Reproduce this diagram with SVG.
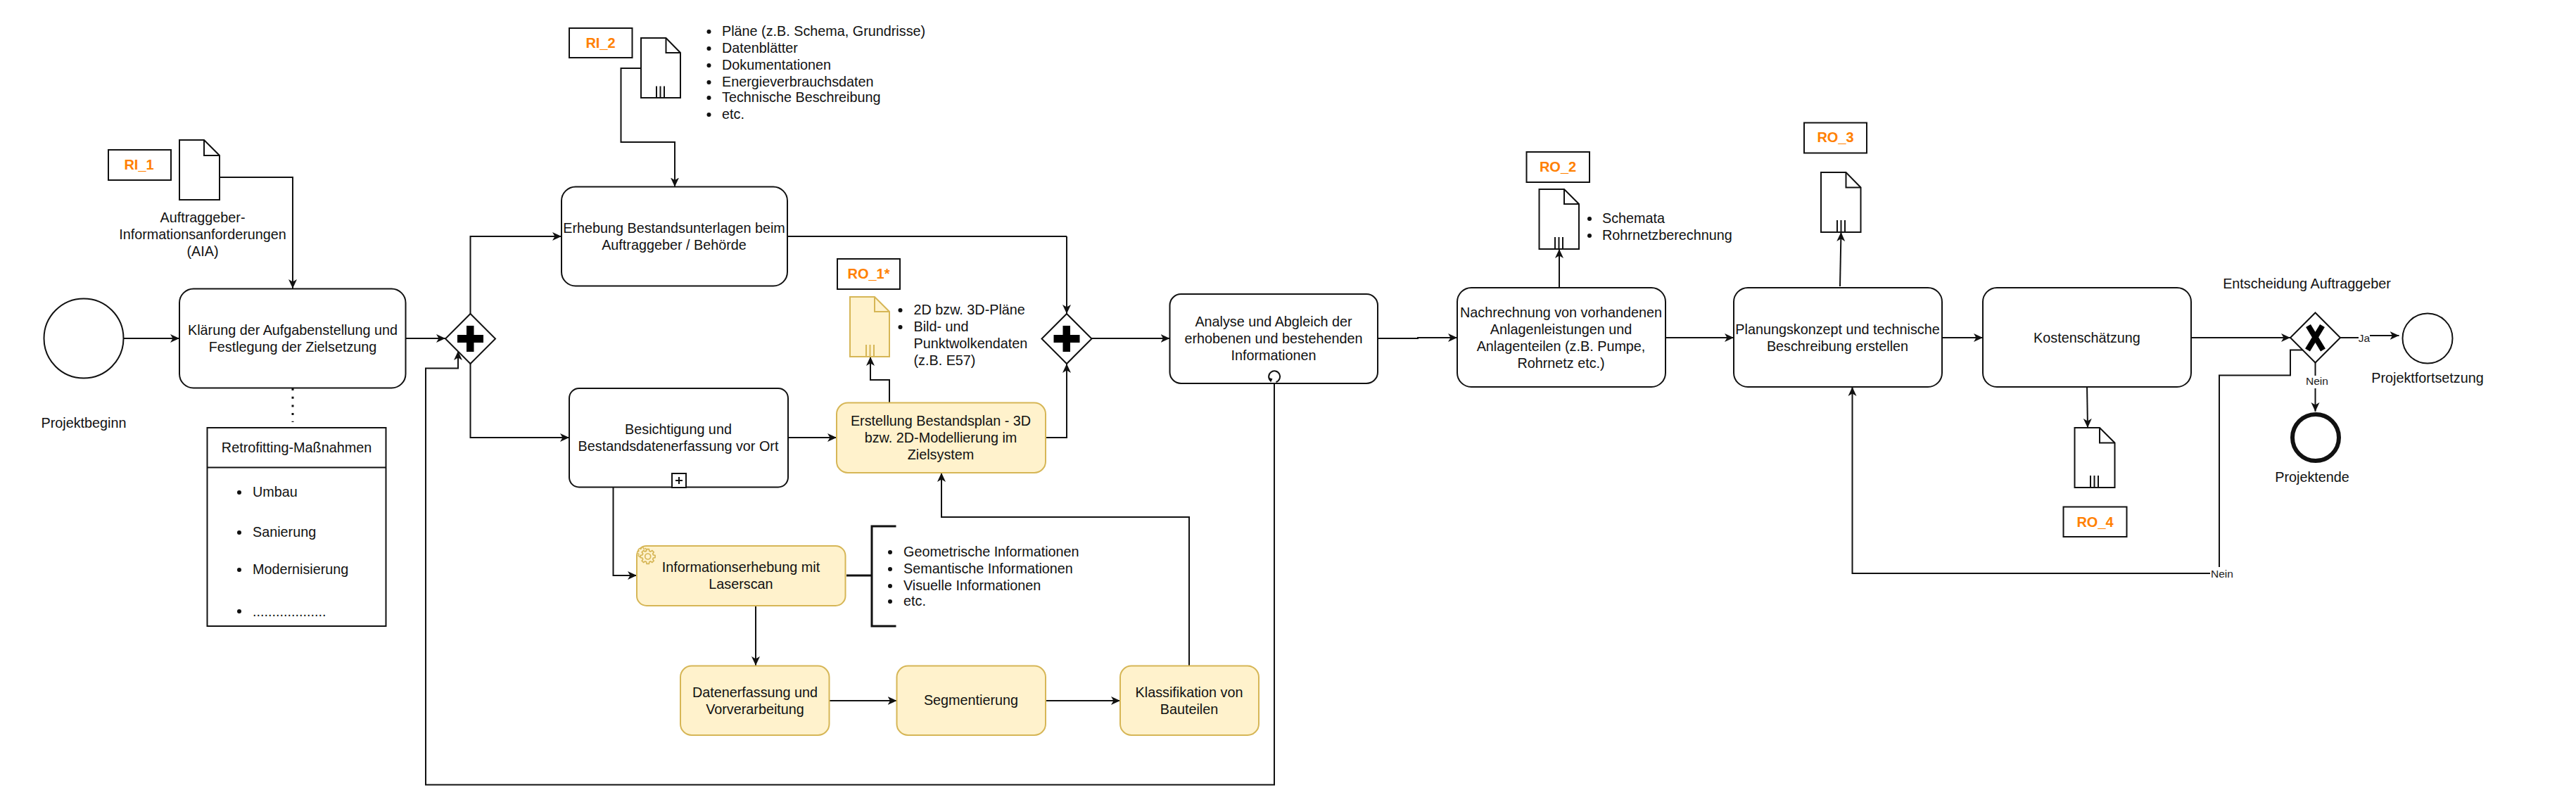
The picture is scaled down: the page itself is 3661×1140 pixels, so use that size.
<svg xmlns="http://www.w3.org/2000/svg" width="3661" height="1140" viewBox="0 0 3661 1140">
<style>
text{font-family:"Liberation Sans",Arial,sans-serif;font-size:19.8px;fill:#111}
.c{text-anchor:middle}
.ref{font-size:20px;font-weight:bold;fill:#ff8000;text-anchor:middle}
.small{font-size:15.500px;text-anchor:middle;fill:#222}
.s{fill:#fff;stroke:#111;stroke-width:2}
.y{fill:#fff2cc;stroke:#d6b656;stroke-width:2}
.n{fill:none;stroke:#111;stroke-width:2}
.ny{fill:none;stroke:#d6b656;stroke-width:2}
.l{fill:none;stroke:#111;stroke-width:2;marker-end:url(#a)}
.p{fill:none;stroke:#111;stroke-width:2}
.b{fill:#111}
.g{fill:#fff2cc;stroke:#d6b656;stroke-width:1.700}
</style>
<defs>
<marker id="a" markerUnits="userSpaceOnUse" markerWidth="15" markerHeight="14" refX="13" refY="7" orient="auto">
<path d="M0,1 L13,7 L0,13 L3.500,7 Z" fill="#111"/>
</marker>
<path id="gear" d="M7,3.880L8.490,6.170L6.170,8.490L3.880,7L2.200,7.690L1.640,10.370L-1.640,10.370L-2.200,7.690L-3.880,7L-6.170,8.490L-8.490,6.170L-7,3.880L-7.690,2.200L-10.370,1.640L-10.370,-1.640L-7.690,-2.200L-7,-3.880L-8.490,-6.170L-6.170,-8.490L-3.880,-7L-2.200,-7.690L-1.640,-10.370L1.640,-10.370L2.200,-7.690L3.880,-7L6.170,-8.490L8.490,-6.170L7,-3.880L7.690,-2.200L10.370,-1.640L10.370,1.640L7.690,2.200Z"/>
</defs>
<rect width="3661" height="1140" fill="#fff"/>
<g id="connectors">
<path class="l" d="M175,481H255"/>
<path class="l" d="M312,252H416V410"/>
<path class="l" d="M576,481H633"/>
<path class="l" d="M668.500,446V336H798"/>
<path class="l" d="M668.500,517V622H809"/>
<path class="l" d="M1811,545V1115.500H605V523.500H651V499"/>
<path d="M416,552V600" fill="none" stroke="#111" stroke-width="3" stroke-dasharray="3 8.700"/>
<path class="l" d="M911,97H882.500V202H959V265.500"/>
<path class="p" d="M1119,336H1516"/>
<path class="l" d="M1516,336V446"/>
<path class="l" d="M1120,622H1189"/>
<path class="l" d="M1264,572V540H1237V507"/>
<path class="l" d="M1486,622H1516V517"/>
<path class="l" d="M871.500,692.500V818H905"/>
<path d="M1203,818H1239M1273.500,748H1239V890H1273.500" fill="none" stroke="#111" stroke-width="3"/>
<path class="l" d="M1074,861V946"/>
<path class="l" d="M1178.500,996H1274.500"/>
<path class="l" d="M1486,996H1592"/>
<path class="l" d="M1690,946V735H1338V672"/>
<path class="l" d="M1551,481H1662.500"/>
<path class="l" d="M1958,481H2015V480H2071"/>
<path class="l" d="M2216,409V354"/>
<path class="l" d="M2367,480H2464"/>
<path class="l" d="M2615,407L2616.500,330"/>
<path class="l" d="M2760,480H2818"/>
<path class="l" d="M3114,480H3255"/>
<path class="l" d="M2966,547L2967,608"/>
<path class="p" d="M3326,480H3352"/>
<path class="l" d="M3368,477H3409.500"/>
<text class="small" x="3360" y="486">Ja</text>
<path class="l" d="M3290.500,515V585"/>
<path class="l" d="M3272,497.500H3255V533.500H3154V815H2632.500V550"/>
<rect x="3277" y="534" width="32" height="18" fill="#fff"/>
<text class="small" x="3293" y="547">Nein</text>
<rect x="3141" y="806" width="34" height="18" fill="#fff"/>
<text class="small" x="3158" y="821">Nein</text>
</g>
<g id="start">
<circle class="s" cx="119" cy="481" r="56.500"/>
<text class="c" x="119" y="608">Projektbeginn</text>
</g>
<g id="ri1">
<rect class="s" x="154" y="213" width="89" height="43"/>
<text class="ref" x="197.500" y="241">RI_1</text>
</g>
<g id="doc-aia">
<path class="s" d="M255,199H290L312,221V284H255Z"/>
<path class="n" d="M290,199V221H312"/>
<text class="c" x="288" y="316">Auftraggeber-</text>
<text class="c" x="288" y="340">Informationsanforderungen</text>
<text class="c" x="288" y="364">(AIA)</text>
</g>
<g id="task-klaerung">
<rect class="s" x="255" y="410.500" width="321.500" height="141" rx="20"/>
<text class="c" x="416" y="476">Klärung der Aufgabenstellung und</text>
<text class="c" x="416" y="500">Festlegung der Zielsetzung</text>
</g>
<g id="retrofitting">
<rect class="s" x="294.500" y="608" width="254" height="282"/>
<path class="n" d="M294.500,664.500H548.500"/>
<text class="c" x="421.500" y="643">Retrofitting-Maßnahmen</text>
<circle class="b" cx="340" cy="700" r="3"/><text x="359" y="706">Umbau</text>
<circle class="b" cx="340" cy="757" r="3"/><text x="359" y="763">Sanierung</text>
<circle class="b" cx="340" cy="810" r="3"/><text x="359" y="816">Modernisierung</text>
<circle class="b" cx="340" cy="869" r="3"/><text x="359" y="876">...................</text>
</g>
<g id="gateway-1">
<path class="s" d="M668.500,446L704,481.500L668.500,517L633,481.500Z"/>
<path d="M663,463H673.500V476H687V487H673.500V500H663V487H650V476H663Z" fill="#000"/>
</g>
<g id="ri2">
<rect class="s" x="809" y="40" width="89.500" height="42"/>
<text class="ref" x="853.500" y="68">RI_2</text>
</g>
<g id="doc-ri2">
<path class="s" d="M911,54H946.500L967,75V139H911Z"/>
<path class="n" d="M946.500,54V75H967M933,122.500V139M938.500,122.500V139M944,122.500V139"/>
<circle class="b" cx="1007.500" cy="45" r="3"/><text x="1026" y="51">Pläne (z.B. Schema, Grundrisse)</text>
<circle class="b" cx="1007.500" cy="69" r="3"/><text x="1026" y="75">Datenblätter</text>
<circle class="b" cx="1007.500" cy="93" r="3"/><text x="1026" y="99">Dokumentationen</text>
<circle class="b" cx="1007.500" cy="117" r="3"/><text x="1026" y="123">Energieverbrauchsdaten</text>
<circle class="b" cx="1007.500" cy="139" r="3"/><text x="1026" y="145">Technische Beschreibung</text>
<circle class="b" cx="1007.500" cy="163" r="3"/><text x="1026" y="169">etc.</text>
</g>
<g id="task-erhebung">
<rect class="s" x="798" y="265.500" width="321" height="141" rx="20"/>
<text class="c" x="958" y="331">Erhebung Bestandsunterlagen beim</text>
<text class="c" x="958" y="355">Auftraggeber / Behörde</text>
</g>
<g id="task-besichtigung">
<rect class="s" x="809" y="552" width="311" height="140.500" rx="14"/>
<text class="c" x="964" y="617">Besichtigung und</text>
<text class="c" x="964" y="641">Bestandsdatenerfassung vor Ort</text>
<rect class="s" x="955" y="673" width="20" height="20"/>
<path class="n" d="M960,683H970M965,678V688"/>
</g>
<g id="ro1">
<rect class="s" x="1190" y="368" width="89" height="43"/>
<text class="ref" x="1234.500" y="396">RO_1*</text>
</g>
<g id="doc-ro1">
<path class="y" d="M1208,422H1243L1264,443V507H1208Z"/>
<path class="ny" d="M1243,422V443H1264M1231,490V507M1236.500,490V507M1242,490V507"/>
<circle class="b" cx="1279.500" cy="441" r="3"/><text x="1298.500" y="447">2D bzw. 3D-Pläne</text>
<circle class="b" cx="1279.500" cy="465" r="3"/><text x="1298.500" y="471">Bild- und</text>
<text x="1298.500" y="495">Punktwolkendaten</text>
<text x="1298.500" y="519">(z.B. E57)</text>
</g>
<g id="task-erstellung">
<rect class="y" x="1189" y="572.500" width="297" height="99.500" rx="16"/>
<text class="c" x="1337" y="605">Erstellung Bestandsplan - 3D</text>
<text class="c" x="1337" y="629">bzw. 2D-Modellierung im</text>
<text class="c" x="1337" y="653">Zielsystem</text>
</g>
<g id="task-laserscan">
<rect class="y" x="905" y="776" width="296.500" height="85" rx="14"/>
<use href="#gear" class="g" transform="translate(913 785.500) scale(.7)"/>
<use href="#gear" class="g" transform="translate(920.700 791)"/>
<circle cx="920.700" cy="791" r="4" fill="none" stroke="#d6b656" stroke-width="1.700"/>
<text class="c" x="1053" y="813">Informationserhebung mit</text>
<text class="c" x="1053" y="837">Laserscan</text>
</g>
<g id="list-informationen">
<circle class="b" cx="1265" cy="785" r="3"/><text x="1284" y="791">Geometrische Informationen</text>
<circle class="b" cx="1265" cy="809" r="3"/><text x="1284" y="815">Semantische Informationen</text>
<circle class="b" cx="1265" cy="833" r="3"/><text x="1284" y="839">Visuelle Informationen</text>
<circle class="b" cx="1265" cy="855" r="3"/><text x="1284" y="861">etc.</text>
</g>
<g id="task-datenerfassung">
<rect class="y" x="967" y="946.500" width="211.500" height="98.500" rx="16"/>
<text class="c" x="1073" y="991">Datenerfassung und</text>
<text class="c" x="1073" y="1015">Vorverarbeitung</text>
</g>
<g id="task-segmentierung">
<rect class="y" x="1274.500" y="946.500" width="211.500" height="98.500" rx="16"/>
<text class="c" x="1380" y="1002">Segmentierung</text>
</g>
<g id="task-klassifikation">
<rect class="y" x="1592" y="946.500" width="197" height="98.500" rx="16"/>
<text class="c" x="1690" y="991">Klassifikation von</text>
<text class="c" x="1690" y="1015">Bauteilen</text>
</g>
<g id="gateway-2">
<path class="s" d="M1516,446L1551.500,481.500L1516,517L1480.500,481.500Z"/>
<path d="M1510.500,463H1521V476H1534.500V487H1521V500H1510.500V487H1497.500V476H1510.500Z" fill="#000"/>
</g>
<g id="task-analyse">
<rect class="s" x="1662.500" y="418" width="295.500" height="127" rx="16"/>
<text class="c" x="1810" y="464">Analyse und Abgleich der</text>
<text class="c" x="1810" y="488">erhobenen und bestehenden</text>
<text class="c" x="1810" y="512">Informationen</text>
<path class="n" d="M1806,541.500A8,8 0 1 1 1813.500,543"/>
<path d="M1802.500,536.500L1808.500,538.500L1806,543.500Z" fill="#111"/>
</g>
<g id="ro2">
<rect class="s" x="2169.500" y="216" width="89.500" height="43"/>
<text class="ref" x="2214" y="244">RO_2</text>
</g>
<g id="doc-ro2">
<path class="s" d="M2187.500,269H2223L2244,290V354H2187.500Z"/>
<path class="n" d="M2223,269V290H2244M2210,337V354M2215.500,337V354M2221,337V354"/>
<circle class="b" cx="2259" cy="311" r="3"/><text x="2277" y="317">Schemata</text>
<circle class="b" cx="2259" cy="335" r="3"/><text x="2277" y="341">Rohrnetzberechnung</text>
</g>
<g id="task-nachrechnung">
<rect class="s" x="2071" y="409" width="296" height="141" rx="20"/>
<text class="c" x="2218.500" y="451">Nachrechnung von vorhandenen</text>
<text class="c" x="2218.500" y="475">Anlagenleistungen und</text>
<text class="c" x="2218.500" y="499">Anlagenteilen (z.B. Pumpe,</text>
<text class="c" x="2218.500" y="523">Rohrnetz etc.)</text>
</g>
<g id="ro3">
<rect class="s" x="2564" y="174.500" width="89" height="43"/>
<text class="ref" x="2608.500" y="202">RO_3</text>
</g>
<g id="doc-ro3">
<path class="s" d="M2588,245H2623.500L2644.500,266.500V330H2588Z"/>
<path class="n" d="M2623.500,245V266.500H2644.500M2611,313V330M2616.500,313V330M2622,313V330"/>
</g>
<g id="task-planung">
<rect class="s" x="2464" y="409" width="296" height="141" rx="20"/>
<text class="c" x="2611.500" y="475">Planungskonzept und technische</text>
<text class="c" x="2611.500" y="499">Beschreibung erstellen</text>
</g>
<g id="task-kosten">
<rect class="s" x="2818" y="409" width="296" height="141" rx="20"/>
<text class="c" x="2966" y="487">Kostenschätzung</text>
</g>
<g id="doc-ro4">
<path class="s" d="M2948.500,608H2984L3005.500,629.500V693H2948.500Z"/>
<path class="n" d="M2984,608V629.500H3005.500M2971,676V693M2976.500,676V693M2982,676V693"/>
</g>
<g id="ro4">
<rect class="s" x="2932.500" y="720.500" width="90" height="42.500"/>
<text class="ref" x="2977.500" y="749">RO_4</text>
</g>
<g id="gateway-x">
<path class="s" d="M3290.500,444.500L3326,480L3290.500,515.500L3255,480Z"/>
<path d="M3280.500,463L3301.500,497.500M3300.500,463L3279.500,497.500" fill="none" stroke="#000" stroke-width="8"/>
<text class="c" x="3278.500" y="410">Entscheidung Auftraggeber</text>
</g>
<g id="end-fortsetzung">
<circle class="s" cx="3450" cy="481" r="35.500"/>
<text class="c" x="3450" y="544">Projektfortsetzung</text>
</g>
<g id="end-projektende">
<circle cx="3291" cy="622" r="33" fill="#fff" stroke="#111" stroke-width="6"/>
<text class="c" x="3286" y="685">Projektende</text>
</g>
</svg>
